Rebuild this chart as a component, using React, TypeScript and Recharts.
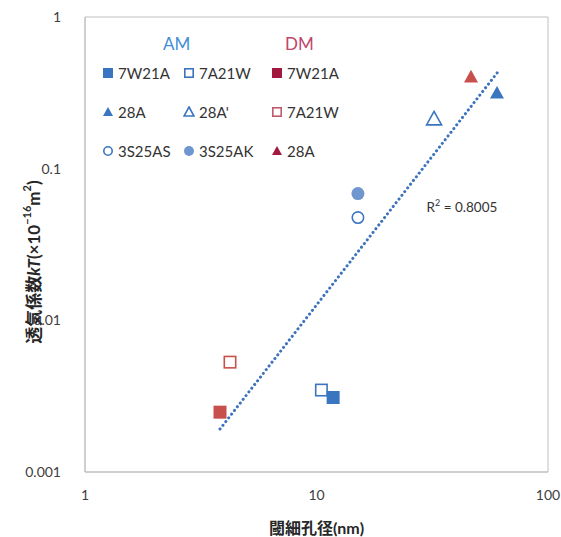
import React from "react";
import {
  ScatterChart,
  Scatter,
  XAxis,
  YAxis,
  ReferenceArea,
  ReferenceLine,
  ReferenceDot,
} from "recharts";

// AM series
const am7W21A = [{ x: 11.8, y: 0.0031 }];
const am7A21W = [{ x: 10.5, y: 0.00347 }];
const am28A = [{ x: 60.2, y: 0.316 }];
const am28Ad = [{ x: 32.2, y: 0.213 }];
const am3S25AS = [{ x: 15.1, y: 0.0476 }];
const am3S25AK = [{ x: 15.1, y: 0.0685 }];

// DM series
const dm7W21A = [{ x: 3.83, y: 0.00248 }];
const dm7A21W = [{ x: 4.23, y: 0.0053 }];
const dm28A = [{ x: 46.5, y: 0.403 }];

// power trendline end points
const trend = [
  { x: 3.83, y: 0.00192 },
  { x: 60.8, y: 0.435 },
];
const r2Text = "0.8005";
const r2Pos = { x: 42.5, y: 0.056 };

const xTicks = [1, 10, 100];
const yTicks = [0.001, 0.01, 0.1, 1];

const BLUE = "#3a75c0";
const BLUE_LIGHT = "#6f96cf";
const RED = "#c8504c";
const DM_DARK = "#a3183f";
const DM_LIGHT = "#c25a6e";

const FONT = "Lato, 'Noto Sans CJK JP', sans-serif";

type Kind = "square" | "triangle" | "circle";

function markerSvg(
  kind: Kind,
  cx: number,
  cy: number,
  color: string,
  filled: boolean,
  size: number
) {
  const h = size / 2;
  const fill = filled ? color : "#fff";
  const sw = filled ? 0 : 1.6;
  if (kind === "square") {
    const s = filled ? size : size - 1.6;
    return (
      <rect x={cx - s / 2} y={cy - s / 2} width={s} height={s} fill={fill} stroke={color} strokeWidth={sw} />
    );
  }
  if (kind === "triangle") {
    const pts = `${cx},${cy - h} ${cx + h},${cy + h * 0.8} ${cx - h},${cy + h * 0.8}`;
    return <polygon points={pts} fill={fill} stroke={color} strokeWidth={sw} strokeLinejoin="miter" />;
  }
  return <circle cx={cx} cy={cy} r={filled ? h : h - 0.8} fill={fill} stroke={color} strokeWidth={sw} />;
}

const shape = (kind: Kind, color: string, filled: boolean, size: number) =>
  (p: any) => <g>{markerSvg(kind, p.cx, p.cy, color, filled, size)}</g>;

function LegendIcon({ kind, color, filled }: { kind: Kind; color: string; filled: boolean }) {
  return (
    <svg width={12} height={12} style={{ marginRight: 4, verticalAlign: "middle" }}>
      {markerSvg(kind, 6, 6, color, filled, 10)}
    </svg>
  );
}

const legendRows: { kind: Kind; color: string; filled: boolean; label: string }[][] = [
  [
    { kind: "square", color: BLUE, filled: true, label: "7W21A" },
    { kind: "square", color: BLUE, filled: false, label: "7A21W" },
    { kind: "square", color: DM_DARK, filled: true, label: "7W21A" },
  ],
  [
    { kind: "triangle", color: BLUE, filled: true, label: "28A" },
    { kind: "triangle", color: BLUE, filled: false, label: "28A'" },
    { kind: "square", color: DM_LIGHT, filled: false, label: "7A21W" },
  ],
  [
    { kind: "circle", color: BLUE, filled: false, label: "3S25AS" },
    { kind: "circle", color: BLUE_LIGHT, filled: true, label: "3S25AK" },
    { kind: "triangle", color: DM_DARK, filled: true, label: "28A" },
  ],
];

const colX = [102, 183, 271];
const rowY = [62, 101, 140];

function YLabel() {
  const cx = 33;
  const cy = 262;
  return (
    <text
      x={cx}
      y={cy}
      transform={`rotate(-90 ${cx} ${cy})`}
      textAnchor="middle"
      dominantBaseline="central"
      fontSize={17}
      fontWeight={700}
      fill="#262626"
      fontFamily={FONT}
    >
      透気係数
      <tspan fontStyle="italic">kT</tspan>
      <tspan>(×10</tspan>
      <tspan dy={-7} fontSize={11}>−16</tspan>
      <tspan dy={7}>m</tspan>
      <tspan dy={-7} fontSize={11}>2</tspan>
      <tspan dy={7}>)</tspan>
    </text>
  );
}

function R2Label(props: any) {
  const { cx, cy } = props;
  return (
    <text x={cx} y={cy} textAnchor="middle" dominantBaseline="central" fontSize={13.5} fill="#333" fontFamily={FONT}>
      R<tspan dy={-5} fontSize={9}>2</tspan>
      <tspan dy={5}> = {r2Text}</tspan>
    </text>
  );
}

export default function App() {
  return (
    <div style={{ position: "absolute", left: 0, top: 0, width: 561, height: 537, background: "#fff", fontFamily: FONT }}>
      <ScatterChart width={561} height={537} margin={{ top: 17, right: 13, left: 0, bottom: 0 }}>
        <XAxis
          dataKey="x"
          type="number"
          scale="log"
          domain={[1, 100]}
          ticks={xTicks}
          allowDataOverflow
          tickLine={false}
          axisLine={{ stroke: "#bfbfbf" }}
          tick={{ fill: "#404040", fontSize: 14, fontFamily: FONT }}
          tickMargin={12}
          height={65}
          label={{
            value: "閾細孔径(nm)",
            position: "insideBottom",
            offset: 3,
            style: { fontWeight: 700, fontSize: 16, fill: "#262626", fontFamily: FONT },
          }}
        />
        <YAxis
          dataKey="y"
          type="number"
          scale="log"
          domain={[0.001, 1]}
          ticks={yTicks}
          allowDataOverflow
          tickLine={false}
          axisLine={{ stroke: "#bfbfbf" }}
          tick={{ fill: "#404040", fontSize: 14, fontFamily: FONT }}
          tickMargin={18}
          width={85}
          label={{ content: YLabel }}
        />
        <ReferenceArea x1={1} x2={100} y1={0.001} y2={1} fill="none" stroke="#bfbfbf" strokeWidth={1} />
        <ReferenceLine
          segment={trend}
          stroke="#3d72bd"
          strokeWidth={3}
          strokeDasharray="0.1 4.6"
          strokeLinecap="round"
        />
        <ReferenceDot x={r2Pos.x} y={r2Pos.y} r={0} shape={(p: any) => <R2Label {...p} />} />
        <Scatter data={am7A21W} shape={shape("square", BLUE, false, 13)} isAnimationActive={false} />
        <Scatter data={am7W21A} shape={shape("square", BLUE, true, 13)} isAnimationActive={false} />
        <Scatter data={am28A} shape={shape("triangle", BLUE, true, 14)} isAnimationActive={false} />
        <Scatter data={am28Ad} shape={shape("triangle", BLUE, false, 15)} isAnimationActive={false} />
        <Scatter data={am3S25AS} shape={shape("circle", BLUE, false, 13)} isAnimationActive={false} />
        <Scatter data={am3S25AK} shape={shape("circle", BLUE_LIGHT, true, 13)} isAnimationActive={false} />
        <Scatter data={dm7W21A} shape={shape("square", RED, true, 13)} isAnimationActive={false} />
        <Scatter data={dm7A21W} shape={shape("square", RED, false, 13)} isAnimationActive={false} />
        <Scatter data={dm28A} shape={shape("triangle", RED, true, 14)} isAnimationActive={false} />
      </ScatterChart>
      <div style={{ position: "absolute", left: 163, top: 33, fontSize: 17, color: "#3f8ed8" }}>AM</div>
      <div style={{ position: "absolute", left: 285, top: 33, fontSize: 17, color: "#c0446c" }}>DM</div>
      {legendRows.map((row, ri) =>
        row.map((item, ci) => (
          <div
            key={`${ri}-${ci}`}
            style={{
              position: "absolute",
              left: colX[ci],
              top: rowY[ri],
              fontSize: 15,
              color: "#333",
              whiteSpace: "nowrap",
              lineHeight: "18px",
            }}
          >
            <LegendIcon kind={item.kind} color={item.color} filled={item.filled} />
            <span style={{ verticalAlign: "middle" }}>{item.label}</span>
          </div>
        ))
      )}
    </div>
  );
}
